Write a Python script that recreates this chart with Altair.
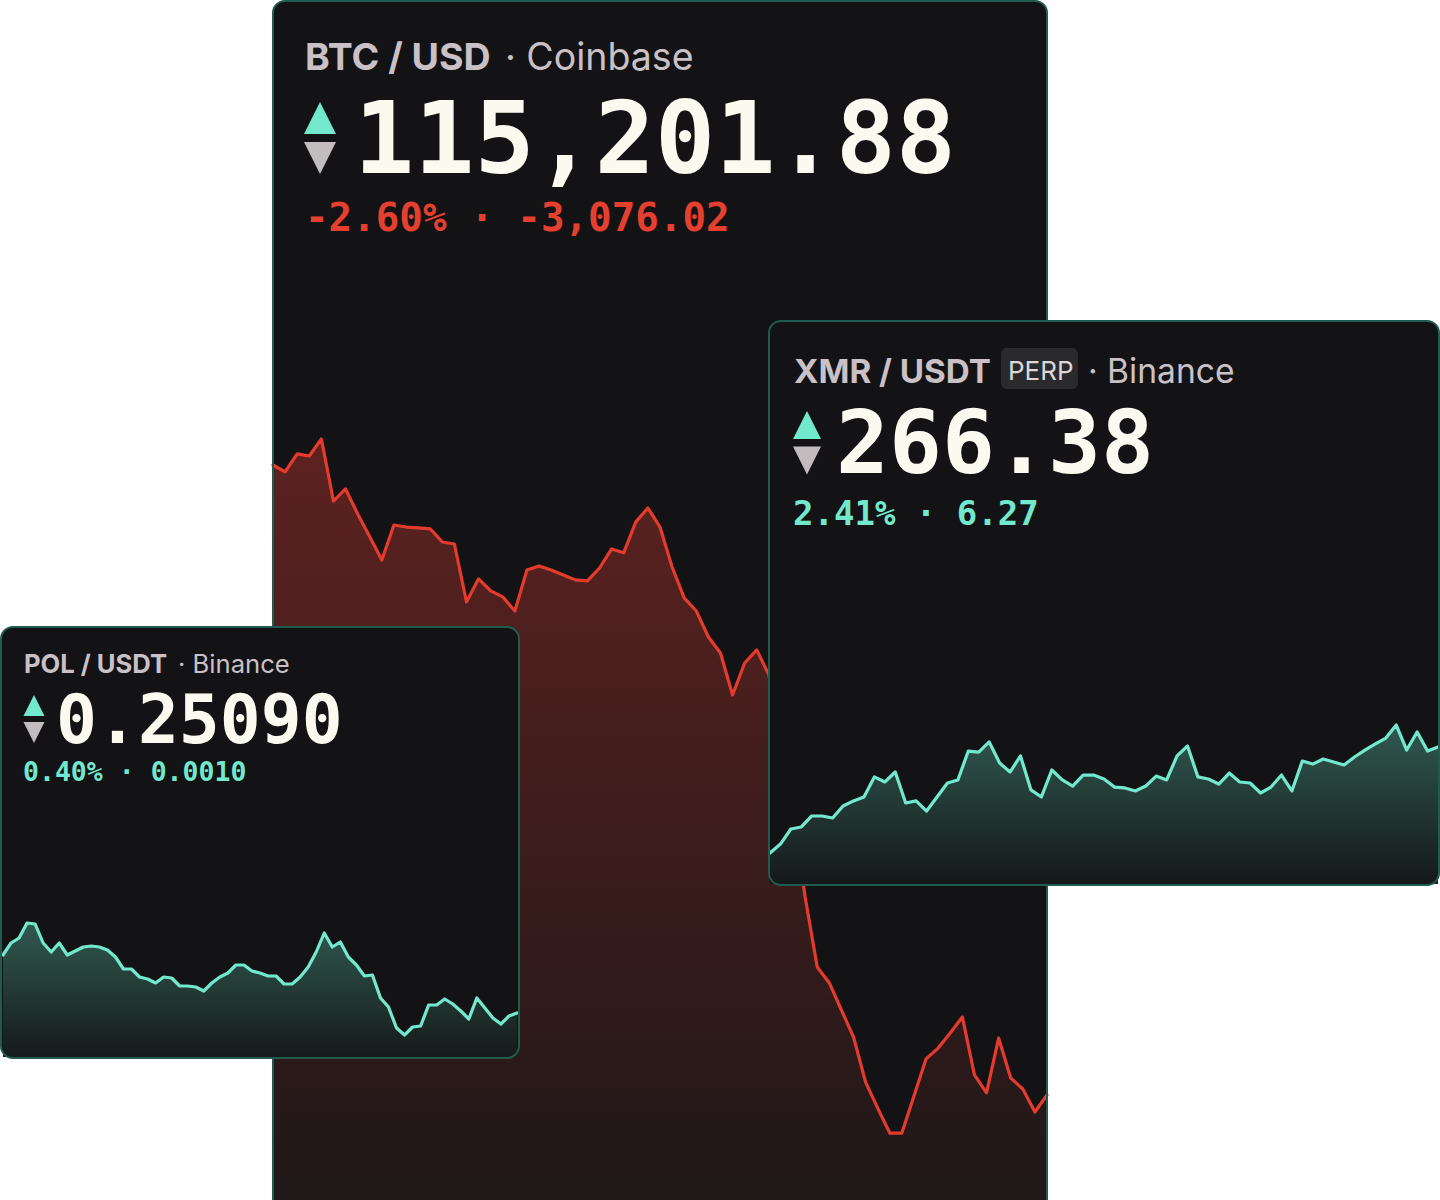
import altair as alt
import pandas as pd

# ---- price series (oldest -> newest) ----
BTC_PRICES = [
    118277.90, 118244, 118332, 118322, 118405, 118102, 118161, 118039, 117927, 117814,
    117985, 117975, 117971, 117966, 117902, 117892, 117609, 117722, 117663, 117634,
    117565, 117765, 117785, 117765, 117741, 117717, 117712, 117775, 117868, 117849,
    118000, 118068, 117975, 117780, 117629, 117565, 117438, 117360, 117155, 117311,
    117375, 117253, 116984, 116594, 116169, 115827, 115749, 115617, 115485, 115265,
    115138, 115016, 115016, 115197, 115378, 115431, 115505, 115583, 115300, 115212,
    115480, 115285, 115231, 115119, 115201.88,
]

XMR_PRICES = [
    260.11, 260.64, 261.53, 261.65, 262.30, 262.30, 262.18, 262.89, 263.19, 263.42,
    264.61, 264.31, 264.90, 263.07, 263.19, 262.59, 263.42, 264.25, 264.43, 266.14,
    266.08, 266.68, 265.43, 264.90, 265.85, 263.84, 263.42, 265.02, 264.43, 264.07,
    264.72, 264.72, 264.49, 264.01, 263.96, 263.78, 264.07, 264.66, 264.43, 265.85,
    266.44, 264.61, 264.49, 264.19, 264.84, 264.31, 264.25, 263.66, 264.01, 264.72,
    263.78, 265.55, 265.37, 265.67, 265.49, 265.32, 265.79, 266.20, 266.56, 266.91,
    267.68, 266.20, 267.27, 266.14, 266.38,
]

POL_PRICES = [
    0.25380, 0.25440, 0.25465, 0.25540, 0.25535, 0.25440, 0.25395, 0.25440, 0.25380, 0.25400,
    0.25420, 0.25425, 0.25420, 0.25405, 0.25370, 0.25310, 0.25310, 0.25270, 0.25260, 0.25240,
    0.25270, 0.25265, 0.25225, 0.25225, 0.25220, 0.25200, 0.25240, 0.25270, 0.25290, 0.25330,
    0.25330, 0.25300, 0.25290, 0.25275, 0.25275, 0.25235, 0.25235, 0.25270, 0.25320, 0.25395,
    0.25490, 0.25420, 0.25445, 0.25370, 0.25330, 0.25275, 0.25280, 0.25165, 0.25120, 0.25015,
    0.24980, 0.25020, 0.25025, 0.25130, 0.25130, 0.25160, 0.25135, 0.25100, 0.25060, 0.25165,
    0.25115, 0.25065, 0.25035, 0.25075, 0.25090,
]

# ---- ticker labels ----
BTC_LABELS = {"pair": "BTC / USD", "venue": "· Coinbase", "price": "115,201.88",
              "change": "-2.60% · -3,076.02"}
XMR_LABELS = {"pair": "XMR / USDT", "badge": "PERP", "venue": "· Binance", "price": "266.38",
              "change": "2.41% · 6.27"}
POL_LABELS = {"pair": "POL / USDT", "venue": "· Binance", "price": "0.25090",
              "change": "0.40% · 0.0010"}

# ---- style ----
CARD_BG = "#131316"
CARD_BORDER = "#215a4f"
TITLE_GREY = "#c9c1c5"
CREAM = "#fcfaf0"
TEAL = "#72e8cd"
RED = "#e5402f"
RED_LINE = "#e43b2d"
ARROW_GREY = "#c3bcbe"
SANS = "Inter"
MONO = "DejaVu Sans Mono"
TRI_UP = "M-1,1L1,1L0,-1Z"
TRI_DOWN = "M-1,-1L1,-1L0,1Z"

ONE = alt.Data(values=[{"k": 0}])


def series_frame(prices):
    return pd.DataFrame({"t": list(range(len(prices))), "price": prices})


def card(x0, x1, y0, y1, filled=True):
    if filled:
        mark = alt.Chart(ONE).mark_rect(cornerRadius=12, fill=CARD_BG, strokeWidth=0)
    else:
        mark = alt.Chart(ONE).mark_rect(cornerRadius=12, fillOpacity=0, stroke=CARD_BORDER,
                                        strokeWidth=2)
    return mark.encode(x=alt.value(x0), x2=alt.value(x1), y=alt.value(y0), y2=alt.value(y1))


def label(txt, x, y, size, color, font=SANS, weight="normal"):
    return alt.Chart(ONE).mark_text(
        align="left", baseline="alphabetic", font=font, fontSize=size,
        fontWeight=weight, color=color,
    ).encode(x=alt.value(x), y=alt.value(y), text=alt.value(txt))


def arrows(cx, cy_up, cy_down, side):
    up = alt.Chart(ONE).mark_point(shape=TRI_UP, filled=True, opacity=1, size=side * side,
                                   color=TEAL, strokeJoin="round").encode(
        x=alt.value(cx), y=alt.value(cy_up))
    down = alt.Chart(ONE).mark_point(shape=TRI_DOWN, filled=True, opacity=1, size=side * side,
                                     color=ARROW_GREY, strokeJoin="round").encode(
        x=alt.value(cx), y=alt.value(cy_down))
    return [up, down]


def sparkline(prices, x_range, ref_lo, ref_hi, px_lo, px_hi, base_px,
              top_col, bottom_col, line_col):
    """Area + line for one ticker.  ref_lo/ref_hi are prices drawn at pixel rows
    px_lo/px_hi; the scale is extended downwards so its floor sits on the card's
    bottom edge (base_px), and the area is filled down to that floor."""
    df = series_frame(prices)
    per_px = (ref_hi - ref_lo) / (px_lo - px_hi)
    floor = ref_lo - (base_px - px_lo) * per_px
    xs = alt.Scale(domain=[0, len(prices) - 1], range=x_range, nice=False, zero=False)
    ys = alt.Scale(domain=[floor, ref_hi], range=[base_px, px_hi], nice=False, zero=False)
    grad = alt.Gradient(
        gradient="linear",
        stops=[alt.GradientStop(color=top_col, offset=0),
               alt.GradientStop(color=bottom_col, offset=1)],
        x1=0, x2=0, y1=0, y2=1,
    )
    area = alt.Chart(df).mark_area(color=grad, interpolate="linear").encode(
        x=alt.X("t:Q", scale=xs, axis=None),
        y=alt.Y("price:Q", scale=ys, axis=None),
        y2=alt.datum(floor),
    )
    line = alt.Chart(df).mark_line(color=line_col, strokeWidth=3.2, strokeJoin="round",
                                   strokeCap="round").encode(
        x=alt.X("t:Q", scale=xs, axis=None),
        y=alt.Y("price:Q", scale=ys, axis=None),
    )
    return [area, line]


layers = []

# ---- BTC / USD card (back) ----
layers.append(card(273, 1047, 1, 1230))
layers += sparkline(BTC_PRICES, [273, 1047], 115201.88, 118277.90, 1095, 465, 1230,
                    "#5d2220", "#1d1718", RED_LINE)
layers.append(card(273, 1047, 1, 1230, filled=False))
layers.append(label(BTC_LABELS["pair"], 305, 70, 37.5, TITLE_GREY, weight="bold"))
layers.append(label(BTC_LABELS["venue"], 505, 70, 37.5, TITLE_GREY))
layers += arrows(320, 118, 158, 32)
layers.append(label(BTC_LABELS["price"], 354, 173, 100, CREAM, font=MONO, weight="bold"))
layers.append(label(BTC_LABELS["change"], 305, 231, 39.2, RED, font=MONO, weight="bold"))

# ---- POL / USDT card (front left) ----
layers.append(card(1, 519, 627, 1058))
layers += sparkline(POL_PRICES, [3, 517], 0.25090, 0.25540, 1013, 923, 1057,
                    "#30594f", "#151a1a", TEAL)
layers.append(card(1, 519, 627, 1058, filled=False))
layers.append(label(POL_LABELS["pair"], 24, 673, 25.6, TITLE_GREY, weight="bold"))
layers.append(label(POL_LABELS["venue"], 178, 673, 25.6, TITLE_GREY))
layers += arrows(34, 705.5, 732.5, 21)
layers.append(label(POL_LABELS["price"], 56, 743, 68, CREAM, font=MONO, weight="bold"))
layers.append(label(POL_LABELS["change"], 23, 781, 26.5, TEAL, font=MONO, weight="bold"))

# ---- XMR / USDT card (front right) ----
layers.append(card(769, 1439, 321, 885))
layers += sparkline(XMR_PRICES, [770, 1438], 260.11, 266.38, 853, 747, 884,
                    "#30594f", "#141819", TEAL)
layers.append(card(769, 1439, 321, 885, filled=False))
layers.append(label(XMR_LABELS["pair"], 794, 383, 33.2, TITLE_GREY, weight="bold"))
layers.append(
    alt.Chart(ONE).mark_rect(cornerRadius=6, fill="#2a2a2d").encode(
        x=alt.value(1001), x2=alt.value(1078), y=alt.value(348), y2=alt.value(389))
)
layers.append(label(XMR_LABELS["badge"], 1008, 380, 26, "#dcd7d9"))
layers.append(label(XMR_LABELS["venue"], 1088, 383, 33.6, TITLE_GREY))
layers += arrows(807, 425, 460.5, 28)
layers.append(label(XMR_LABELS["price"], 836, 473, 88, CREAM, font=MONO, weight="bold"))
layers.append(label(XMR_LABELS["change"], 793, 525, 34, TEAL, font=MONO, weight="bold"))

chart = (
    alt.layer(*layers)
    .resolve_scale(x="independent", y="independent")
    .properties(width=1440, height=1200, padding=0, autosize="none", background="white")
    .configure_view(strokeWidth=0)
)

chart.save("out.html", embed_options={"renderer": "svg", "actions": False})
